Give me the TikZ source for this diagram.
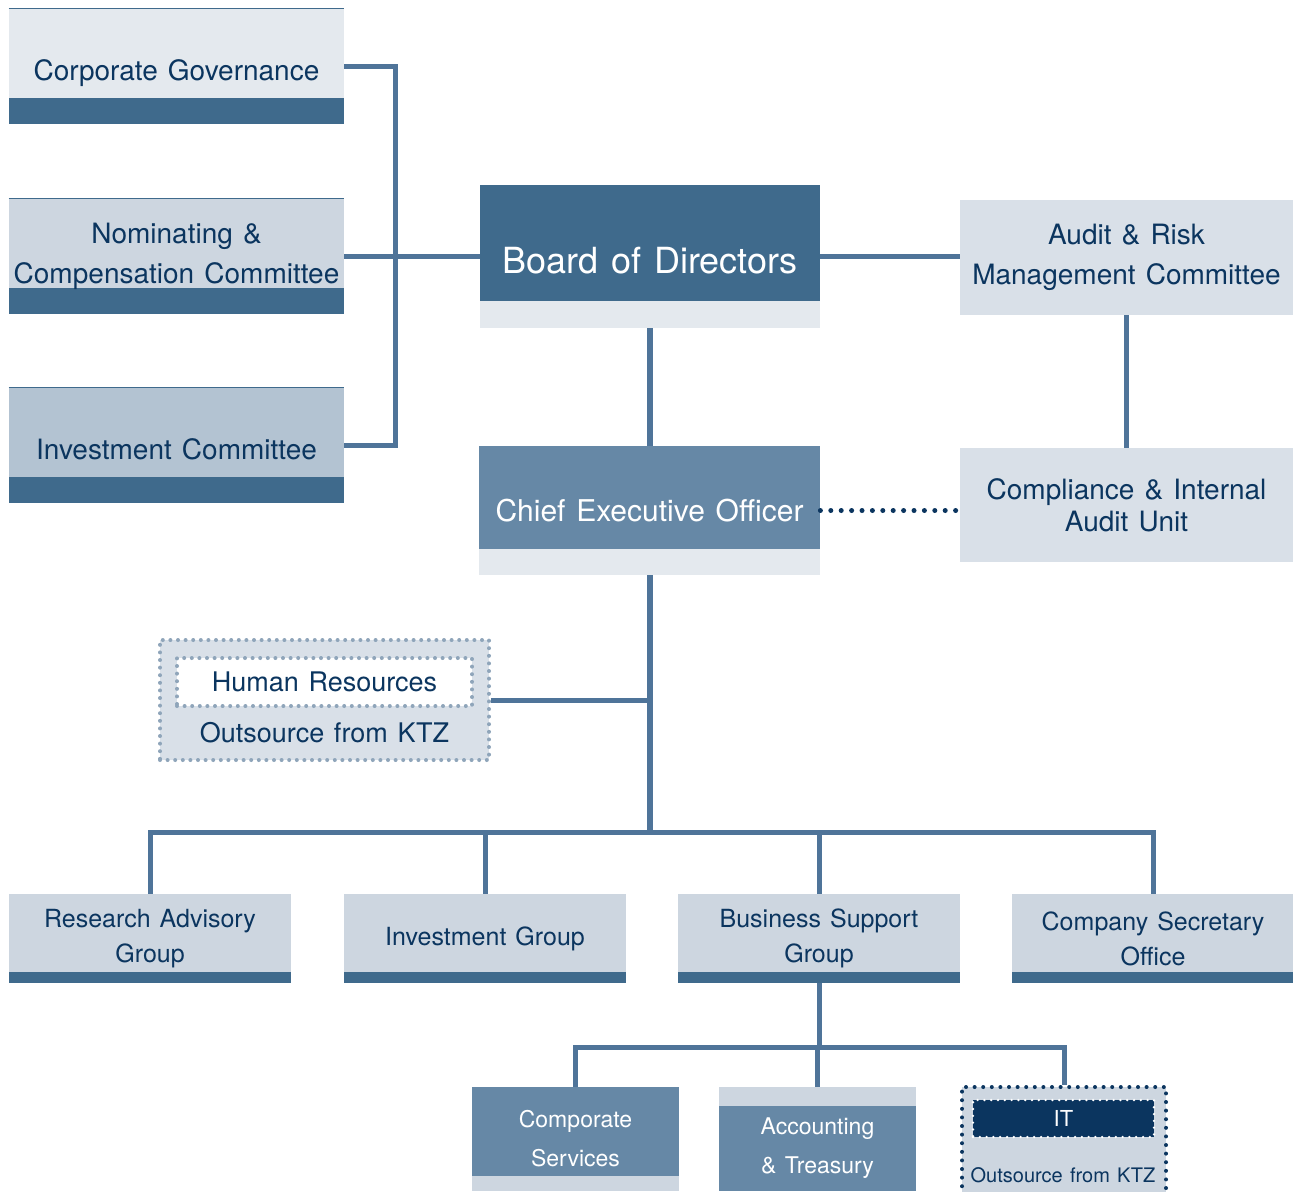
\documentclass[tikz,border=0pt]{standalone}
\usepackage{fontspec}
\setmainfont[WordSpace=1.3]{TeX Gyre Heros}
\usepackage{tikz}
\definecolor{navy}{HTML}{0B355F}
\definecolor{barblue}{HTML}{3F6A8C}
\definecolor{lineblue}{HTML}{4F7499}
\definecolor{midblue}{HTML}{6688A6}
\definecolor{pale}{HTML}{E4E9EE}
\definecolor{paleA}{HTML}{D9E0E8}
\definecolor{paleB}{HTML}{CDD6E0}
\definecolor{paleC}{HTML}{B3C3D2}
\definecolor{dotgrey}{HTML}{8FA5BA}

\begin{document}
\begin{tikzpicture}[
    x=0.5pt, y=-0.5pt,
    unit/.style={rectangle, inner sep=0pt, align=center, text=navy},
    band/.style 2 args={path picture={\fill[#1] (path picture bounding box.south west) rectangle ([yshift=#2]path picture bounding box.south east);}},
    topline/.style={append after command={(\tikzlastnode.north west) edge[draw=barblue, line width=0.8pt] (\tikzlastnode.north east)}},
    committee/.style={unit, fill=#1, minimum width=167.5pt, minimum height=57.5pt, font=\fontsize{14}{20}\selectfont, band={barblue}{13pt}, topline},
    lowtext/.style={text height=#1, text depth=0pt},
    auditbox/.style={unit, fill=paleA, minimum width=166.5pt, minimum height=57.5pt, font=\fontsize{14}{20}\selectfont},
    group/.style={unit, fill=paleB, minimum width=141pt, minimum height=44.5pt, font=\fontsize{12.5}{17.5}\selectfont, band={barblue}{5.5pt}},
    service/.style={unit, fill=midblue, text=white, font=\fontsize{11.5}{19.5}\selectfont},
    dotline/.style 2 args={line width=#1, dash pattern=on 0pt off #2, line cap=round},
    conn/.style={draw=lineblue, line width=#1},
    conn/.default=2.5pt
    ]

    \useasboundingbox (0,0) rectangle (1293,1191);

    \node[committee=pale, lowtext=14pt] (cg) at (176.5,66.5) {Corporate Governance};
    \node[committee=paleB] (ncc) at (176.5,256.5) {Nominating \&\\Compensation Committee};
    \node[committee=paleC, lowtext=14pt] (ic) at (176.5,445.5) {Investment Committee};

    \node[unit, fill=barblue, text=white, minimum width=170pt, minimum height=71.5pt, font=\fontsize{18}{20}\selectfont, band={pale}{13.5pt}, lowtext=16.5pt] (bod) at (650,256.5) {Board of Directors};
    \node[unit, fill=midblue, text=white, minimum width=170.5pt, minimum height=64.5pt, font=\fontsize{15}{20}\selectfont, band={pale}{13pt}] (ceo) at (649.5,510.5) {Chief Executive Officer};

    \node[auditbox] (arm) at (1126.5,257.5) {Audit \& Risk\\Management Committee};
    \node[auditbox, minimum height=57pt, font=\fontsize{14}{16}\selectfont] (cia) at (1126.5,505) {Compliance \& Internal\\Audit Unit};

    \node[unit, fill=paleA, draw=dotgrey, dotline={2pt}{3.8pt}, minimum width=164.5pt, minimum height=60pt] (hr) at (324.5,700) {};
    \node[unit, fill=white, draw=dotgrey, dotline={2pt}{3.8pt}, minimum width=147.5pt, minimum height=24pt, font=\fontsize{13.5}{16}\selectfont] (hrin) at (324.5,682) {Human Resources};
    \node[unit, font=\fontsize{13.5}{16}\selectfont] (hrout) at (324.5,733) {Outsource from KTZ};

    \node[group] (rag) at (150,938.5) {Research Advisory\\Group};
    \node[group] (ig) at (485,938.5) {Investment Group};
    \node[group] (bsg) at (819,938.5) {Business Support\\Group};
    \node[group] (cso) at (1153,938.5) {Company Secretary\\Office};

    \node[service, minimum width=103.5pt, minimum height=52pt, band={paleB}{7.5pt}] (cs) at (575.5,1139) {Comporate\\Services};
    \node[service, minimum width=98.5pt, minimum height=42.5pt] (at) at (817.5,1148.5) {Accounting\\\& Treasury};
    \fill[paleB] (at.north west) rectangle ([yshift=9.5pt]at.north east);

    \node[unit, fill=paleB, draw=navy, dotline={2pt}{4.3pt}, minimum width=102pt, minimum height=56pt] (it) at (1064,1143) {};
    \node[unit, fill=navy, draw=white, dotline={1.3pt}{3.4pt}, text=white, minimum width=90.5pt, minimum height=18.5pt, font=\fontsize{11}{13}\selectfont] (itin) at (1063.5,1118.5) {IT};
    \node[unit, font=\fontsize{10}{12}\selectfont] (itout) at (1063,1175) {Outsource from KTZ};

    \coordinate (brk) at (395,256.5);
    \coordinate (hub) at (649.5,832);
    \coordinate (hub2) at (819,1047);

    \draw[conn] (cg.east) -| (brk) |- (ic.east);
    \draw[conn] (ncc.east) -- (bod.west);
    \draw[conn] (bod.east) -- (bod.east -| arm.west);
    \draw[conn=3pt] (bod.south) -- (bod.south |- ceo.north);
    \draw[conn] (arm.south) -- (arm.south |- cia.north);
    \draw[navy, dotline={2.5pt}{5.2pt}] (ceo.east) -- (ceo.east -| cia.west);
    \draw[conn=3pt] (ceo.south) -- (hub);
    \draw[conn] (hr.east) -- (hr.east -| hub);
    \foreach \n in {rag,ig,bsg,cso}
      \draw[conn, line join=miter] (hub) -| (\n.north);
    \draw[conn] (bsg.south) -- (hub2);
    \foreach \n in {cs,it}
      \draw[conn, line join=miter] (hub2) -| (\n.north);
    \draw[conn] (hub2) -| ([yshift=9.5pt]at.north);

\end{tikzpicture}
\end{document}
